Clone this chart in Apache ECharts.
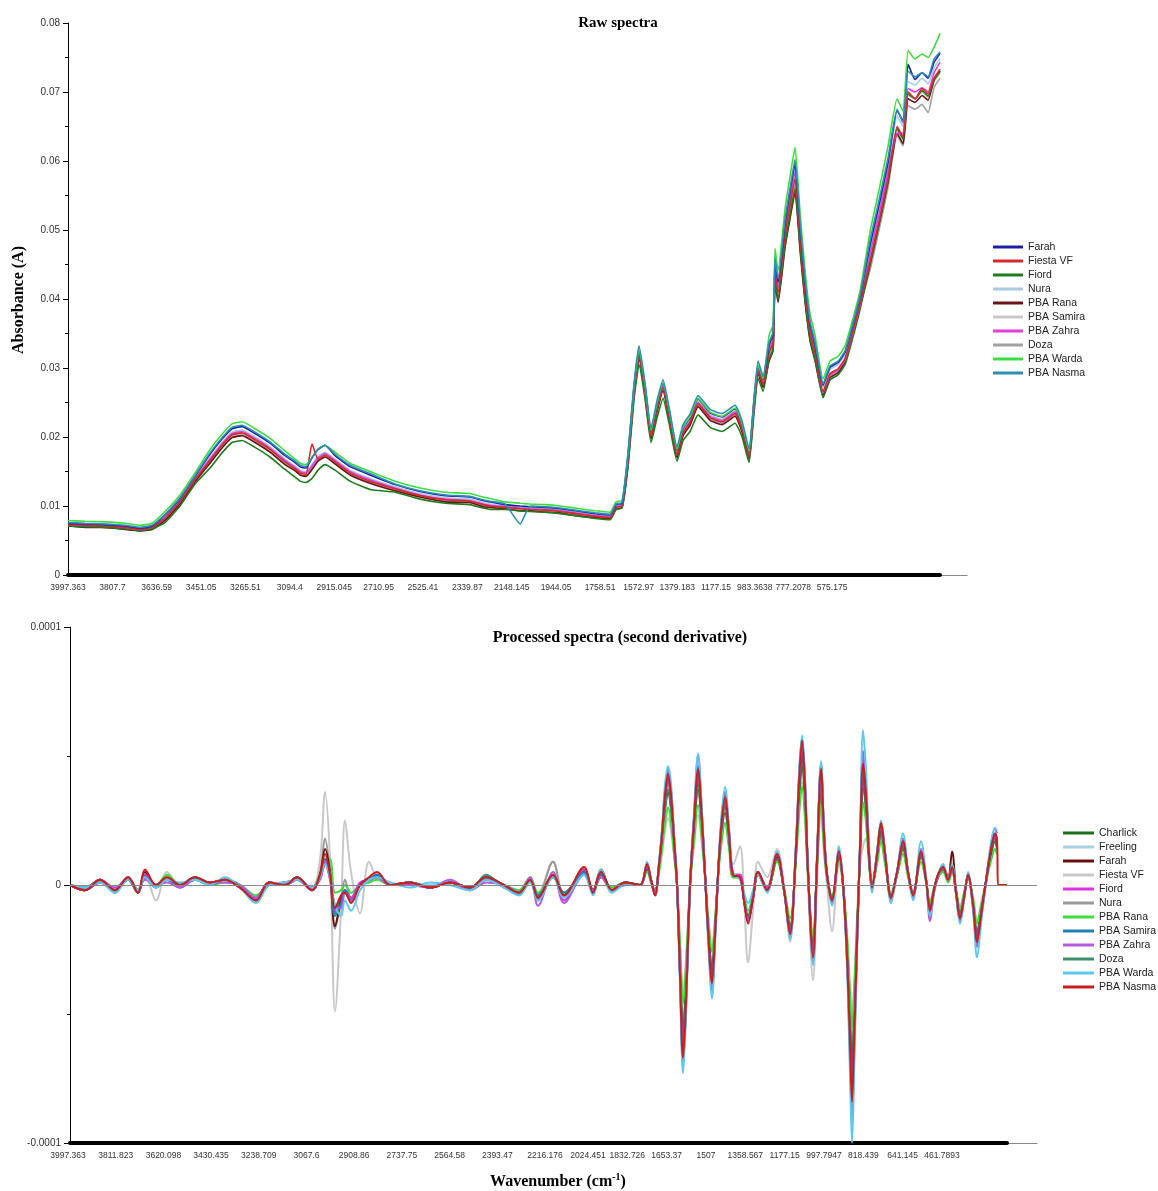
<!DOCTYPE html>
<html><head><meta charset="utf-8">
<script src="https://cdn.jsdelivr.net/npm/echarts@6/dist/echarts.min.js"></script>
<style>html,body{margin:0;padding:0;background:#fff}#c{width:1158px;height:1191px}</style>
</head><body><div id="c"></div>
<script>
// ---------- Raw spectra (values in 1e-4 absorbance units) ----------
const rawWavenumbers = [3997.4,3926.0,3842.0,3758.0,3695.0,3644.6,3590.0,3527.0,3464.0,3401.0,
3350.6,3308.6,3266.6,3212.0,3149.0,3086.0,3044.0,3023.0,2998.0,2972.6,
2947.4,2918.0,2876.0,2813.0,2729.0,2624.0,2519.0,2414.0,2309.0,2254.4,
2225.0,2162.0,2099.0,2057.0,1994.0,1931.0,1868.0,1784.0,1721.0,1695.8,
1670.6,1645.4,1620.2,1599.2,1574.0,1548.8,1523.6,1498.4,1473.2,1439.6,
1414.4,1385.0,1351.4,1301.0,1250.6,1196.0,1166.6,1137.2,1116.2,1099.4,
1078.4,1053.2,1036.4,1028.0,1015.4,986.0,965.0,944.0,923.0,902.0,
881.0,860.0,826.4,797.0,763.4,734.0,704.6,671.0,629.0,587.0,
553.4,515.6,490.4,469.4,440.0,410.6,385.4,360.2,335.0];

const rawFarah = [75,74,73,71,68,71,87,111,143,175,197,212,215,205,191,173,163,157,155,170,182,188,173,157,145,131,121,115,113,108,106,102,100,99,98,96,93,89,87,102,104,173,273,325,273,208,248,278,238,181,213,228,255,235,229,241,218,178,253,303,283,333,349,455,424,510,556,596,505,424,364,333,275,301,308,323,358,403,478,543,598,673,658,740,718,728,720,743,756];
const rawFiestaVF = [73,72,71,69,66,69,82,106,138,166,188,203,206,196,182,164,154,148,146,190,168,174,164,148,136,125,115,109,107,102,100,98,96,95,94,92,89,85,83,98,100,166,266,318,266,201,241,271,231,174,206,221,248,228,222,234,211,171,246,296,276,322,336,439,409,492,536,575,487,409,351,322,266,292,299,314,349,394,455,520,575,650,635,700,690,705,697,720,733];
const rawFiord = [71,70,69,67,64,67,76,100,132,155,177,192,195,185,171,153,142,136,134,140,152,160,152,136,124,120,110,104,102,97,95,95,93,92,91,89,86,82,80,95,97,157,255,305,255,192,228,256,220,165,195,208,232,214,208,220,200,163,236,285,266,313,327,427,399,479,522,560,475,399,342,313,257,283,290,305,340,385,452,517,572,647,632,697,690,702,694,717,730];
const rawNura = [74,73,72,70,67,70,84,108,140,170,192,207,210,200,186,168,158,152,150,160,172,178,168,152,140,128,118,112,110,105,103,100,98,97,96,94,91,87,85,100,102,170,270,322,270,205,245,275,235,178,210,225,252,232,226,238,215,175,250,300,280,330,345,450,420,505,550,590,500,420,360,330,272,298,305,320,355,400,470,535,590,665,650,715,710,720,712,735,748];
const rawPBARana = [71,69,69,66,64,66,79,103,135,162,184,199,202,192,178,160,151,145,143,153,165,171,161,145,133,122,113,106,105,99,98,96,93,93,91,90,86,83,81,95,98,162,262,314,262,197,237,267,227,170,202,217,244,224,218,230,207,167,242,292,272,310,325,423,395,475,517,555,470,395,339,310,260,286,293,308,343,388,450,515,570,640,625,690,685,695,688,718,730];
const rawPBASamira = [72,71,70,68,65,68,81,105,137,165,187,202,205,195,181,163,153,147,145,155,167,173,163,147,135,124,114,108,106,101,99,97,95,94,93,91,88,84,82,97,99,165,265,317,265,200,240,270,230,173,205,220,247,227,221,233,210,170,245,295,275,319,333,435,406,488,531,570,483,406,348,319,264,290,297,312,347,392,450,515,570,645,630,695,690,700,692,715,728];
const rawPBAZahra = [74,72,72,69,66,70,83,107,139,168,190,205,208,198,184,166,156,150,148,158,170,176,166,150,138,126,116,110,108,103,101,99,97,96,95,93,90,86,84,99,101,168,268,320,268,203,243,273,233,176,208,223,250,230,224,236,213,173,248,298,278,327,341,445,416,500,544,584,495,416,356,327,264,290,297,312,347,392,465,530,585,640,640,705,700,706,700,728,743];
const rawDoza = [71,70,69,67,64,67,80,104,136,163,185,200,203,193,179,161,152,146,144,154,166,172,162,146,134,123,113,107,105,100,98,96,94,93,92,90,87,83,81,96,98,164,264,316,264,199,239,269,229,172,204,219,246,226,220,232,209,169,244,294,274,316,330,431,402,484,527,565,479,402,345,316,262,288,295,310,345,390,442,507,562,637,622,680,675,682,670,707,720];
const rawPBAWarda = [79,78,77,75,72,75,92,116,148,182,204,219,222,212,198,180,168,162,160,170,182,188,178,162,150,136,126,120,118,113,111,106,104,103,102,100,97,93,91,106,108,174,274,326,274,209,249,279,239,182,214,229,256,236,230,242,219,179,254,304,284,347,363,473,441,531,578,620,525,441,378,347,284,310,317,332,367,412,498,565,622,690,672,760,748,755,750,765,785];
const rawPBANasma = [76,75,74,72,69,72,88,112,144,177,199,214,217,207,193,175,165,159,157,170,182,188,175,159,147,132,122,116,114,109,107,103,74,100,99,97,94,90,88,103,105,178,278,332,278,213,253,283,243,186,218,233,260,240,234,246,223,183,258,310,288,337,352,459,429,515,561,602,510,429,367,337,277,303,310,325,360,405,485,550,605,675,655,730,722,728,722,748,758];

const rawNames = ['Farah','Fiesta VF','Fiord','Nura','PBA Rana','PBA Samira','PBA Zahra','Doza','PBA Warda','PBA Nasma'];
const rawValues = [rawFarah,rawFiestaVF,rawFiord,rawNura,rawPBARana,rawPBASamira,rawPBAZahra,rawDoza,rawPBAWarda,rawPBANasma];
const rawColors = ['#1f1fa8','#d42a2a','#1e7b1e','#a9cbe3','#6e1414','#c9c9c9','#e03ee0','#a0a0a0','#3fdc3f','#2b8fb3'];
const rawDrawOrder = [5,7,3,4,2,6,1,0,8,9];
const rawTickLabels = ['3997.363','3807.7','3636.59','3451.05','3265.51','3094.4','2915.045','2710.95','2525.41','2339.87','2148.145','1944.05','1758.51','1572.97','1379.183','1177.15','983.3638','777.2078','575.175'];

// ---------- Second derivative (values in 1e-6 units) ----------
const derivWavenumbers = [3997.4,3939.5,3881.6,3823.7,3773.5,3735.0,3707.9,3665.4,3623.0,3572.8,
3515.0,3457.0,3399.1,3341.2,3279.4,3229.3,3167.5,3121.2,3063.3,3032.4,
3013.1,2993.8,2974.5,2951.3,2935.9,2912.7,2878.0,2843.3,2812.4,2762.2,
2685.0,2607.8,2530.6,2453.4,2391.6,2322.2,2264.3,2221.8,2190.9,2133.0,
2090.6,2013.4,1978.6,1947.7,1905.3,1855.1,1797.2,
1770.2,1754.9,1739.3,1723.9,1712.3,1700.7,1689.1,1677.5,1665.9,1654.4,
1642.8,1631.2,1619.6,1604.2,1588.8,1573.3,1557.9,1546.3,1534.7,1519.3,
1507.7,1496.1,1484.5,1469.1,1453.6,1438.2,1411.2,1395.8,1380.3,1361.0,
1341.7,1307.0,1268.4,1241.4,1218.2,1195.0,1183.5,1171.9,1160.3,1148.7,
1129.4,1114.0,1098.5,1087.0,1075.4,1056.1,1029.1,1013.6,998.2,986.6,
978.9,971.2,959.6,948.0,936.4,924.9,913.3,901.7,882.4,867.0,
851.5,828.3,805.2,782.0,762.7,743.4,712.5,693.2,677.8,662.4,
646.9,627.6,608.3,592.9,577.4,562.0,546.6,531.1,511.8,496.4,
480.9,465.5,446.2,426.9,419.1,415.3,380.5];

const dCharlick = [0,-2,1,-2,2,-3,4,0,2,0,3,1,2,-1,-5,0,1,2,-2,4,9,4,-11,-5,-2,-6,0,2,3,0,1,-1,1,-1,3,0,-3,2,-4,4,-4,5,-2,5,-2,0,0,
 6,2,-3,7,17,29,36,29,15,0, -29,-56,-37,0,21,37,21,3,-15,-32, -16,3,18,28,17,3,3,-5,-12,-4, 4,-2,10,-2,-16,12,33,46,31,4, -23,8,37,17,3,-5,11,0,-23,-51, -68,-51,-18,12,39,29,10,-1,10,20, 10,-4,4,14,4,-3,11,2,-8,-2, 3,6,2,6,-2,-11,-4,3,-7,-18, -10,-1,10,17,14,null,null];
const dFreeling = [0,-1,2,-2,2,-2,3,0,2,0,2,0,2,0,-5,1,0,2,-1,3,10,3,-10,-6,-2,-5,0,1,3,0,1,0,1,-1,2,0,-2,2,-4,3,-3,4,-2,3,-1,1,0,
 7,2,-4,7,18,32,40,32,17,0, -32,-62,-41,0,23,42,23,4,-17,-35, -18,4,20,31,18,4,3,-6,-13,-5, 5,-2,11,-2,-17,14,37,51,35,5, -26,9,41,18,4,-6,12,0,-26,-57, -77,-57,-20,14,43,32,11,-1,11,22, 11,-5,5,16,5,-4,12,2,-9,-2, 4,6,2,6,-3,-12,-5,4,-7,-20, -11,-1,11,18,16,null,null];
const dFarah = [0,-2,2,-2,3,-3,5,0,2,0,2,1,2,-1,-5,1,0,3,-2,4,14,5,-16,-6,-3,-6,0,2,4,0,1,-1,1,-1,2,0,-3,2,-5,4,-4,6,-2,6,-2,1,0,
 7,2,-4,8,19,34,41,34,17,0, -34,-64,-43,0,24,43,24,4,-17,-36, -19,4,21,33,19,4,3,-6,-14,-5, 5,-2,11,-2,-18,14,38,53,36,5, -27,11,47,20,4,-6,12,0,-27,-60, -80,-60,-21,14,45,33,11,-1,12,23, 12,-5,5,16,5,-4,12,2,-10,-2, 4,7,3,13,-3,-14,-5,4,-8,-21, -11,-1,11,19,16,null,null];
const dFiestaVF = [0,-1,2,-1,2,-2,4,-6,5,0,2,1,2,0,-5,1,0,2,-1,10,36,10,-49,-10,25,5,-11,9,3,1,0,-1,1,-1,2,0,-2,2,-3,9,-3,4,-2,3,-1,1,0,
 6,1,-3,5,12,21,26,21,11,0, -21,-42,-28,0,15,27,15,4,-11,-24, -12,4,15,24,15,8,15,-5,-30,-10, 9,3,14,0,-22,12,30,40,25,0, -37,0,30,12,0,-18,8,0,-22,-40, -50,-40,-12,8,15,18,12,2,10,18, 10,-3,4,12,4,-2,9,1,-6,-1, 3,5,2,5,-2,-8,-3,3,-5,-14, -7,0,8,14,12,null,null];
const dFiord = [0,-2,1,-1,2,-2,4,0,2,-1,2,1,2,-1,-5,0,1,2,-1,2,8,2,-10,-8,-2,-5,1,2,3,0,0,-1,1,-2,2,0,-3,2,-6,4,-6,6,-3,4,-2,0,0,
 7,2,-3,8,19,34,42,34,18,1, -34,-65,-44,1,24,44,25,5,-17,-37, -19,4,21,33,20,4,4,-6,-14,-5, 5,-1,12,-2,-18,15,39,54,37,5, -27,10,44,19,4,-6,13,0,-27,-61, -82,-61,-21,15,46,34,12,-1,12,23, 12,-5,5,16,5,-4,12,2,-10,-2, 4,7,2,6,-3,-13,-5,4,-8,-21, -11,-1,12,19,17,null,null];
const dNura = [0,-2,1,-2,2,-2,4,-1,3,0,3,1,2,-1,-6,1,0,3,-2,5,18,5,-17,-6,2,-5,0,2,4,0,1,-1,1,-1,3,0,-3,2,-4,9,-4,5,-3,4,-2,1,0,
 7,2,-3,7,18,31,39,31,16,0, -32,-60,-40,0,22,40,22,4,-16,-34, -18,4,20,31,18,4,4,-6,-13,-4, 5,-2,11,-2,-17,13,36,50,34,5, -25,9,40,18,4,-5,12,0,-25,-56, -76,-56,-20,13,42,31,11,-1,11,21, 11,-4,5,15,5,-4,12,2,-9,-2, 4,6,2,6,-3,-12,-5,4,-7,-20, -11,-1,11,18,15,null,null];
const dPBARana = [0,-1,1,-2,2,-2,3,0,4,0,2,0,1,0,-4,0,0,2,-1,4,8,10,-3,-2,0,-3,0,1,2,0,1,-1,1,-1,2,0,-2,3,-3,3,-3,4,-2,3,-1,1,0,
 5,1,-3,5,14,24,30,24,12,0, -24,-46,-31,0,17,31,17,3,-12,-26, -14,3,15,24,14,3,3,-4,-10,-3, 4,-1,9,-1,-13,10,27,38,26,3, -19,7,31,14,3,-4,9,0,-19,-42, -56,-42,-15,10,32,24,8,0,8,17, 8,-3,4,12,3,-3,9,1,-7,-1, 3,5,1,5,-2,-9,-3,3,-5,-15, -8,-1,8,14,12,null,null];
const dPBASamira = [0,-1,2,-2,2,-3,3,-1,2,0,3,0,2,-1,-6,1,0,3,-2,3,10,4,-12,-7,-2,-6,0,2,4,0,1,-1,1,-1,3,0,-4,2,-4,3,-3,5,-3,4,-2,1,0,
 8,2,-4,8,20,36,44,36,18,0, -36,-68,-46,0,26,46,26,4,-18,-39, -20,4,22,35,20,4,3,-6,-13,-5, 5,-2,12,-2,-19,15,41,57,39,5, -29,10,46,20,4,-6,13,0,-29,-65, -88,-65,-23,15,49,36,12,-1,12,24, 12,-5,5,17,5,-4,13,2,-11,-2, 4,7,2,7,-3,-13,-5,4,-8,-23, -12,-1,12,20,18,null,null];
const dPBAZahra = [0,-2,2,-1,3,-2,2,0,1,-1,2,1,1,0,-5,1,0,2,-2,3,9,4,-8,-9,-3,-6,0,2,3,0,1,-1,2,-2,1,0,-3,3,-8,5,-7,4,-2,3,-2,1,0,
 8,2,-4,8,21,37,45,37,19,0, -37,-70,-47,0,27,50,27,4,-19,-41, -21,4,23,36,21,4,3,-6,-14,-5, 5,-2,12,-2,-20,16,42,57,40,5, -30,10,46,21,4,-7,14,0,-30,-68, -92,-68,-24,16,52,38,13,-2,13,24, 13,-6,5,18,5,-5,14,2,-14,-3, 3,8,2,7,-3,-14,-5,4,-9,-24, -13,-2,13,22,20,null,null];
const dDoza = [0,-2,2,-3,3,-2,4,0,2,-1,2,0,2,0,-6,1,0,2,-1,4,10,5,-11,-5,-2,-5,0,2,3,0,1,-1,1,-2,4,-1,-3,2,-5,4,-4,5,-3,5,-2,1,0,
 7,2,-3,7,17,30,37,30,16,0, -30,-58,-39,0,22,39,22,4,-16,-33, -17,4,19,30,17,4,3,-5,-13,-4, 4,-2,10,-2,-16,13,35,49,33,4, -24,9,39,17,4,-5,11,0,-24,-53, -72,-53,-19,13,41,30,10,-1,10,21, 10,-4,4,15,4,-4,11,2,-9,-2, 4,6,2,6,-3,-11,-4,4,-7,-19, -10,-1,10,17,15,null,null];
const dPBAWarda = [0,-1,1,-3,2,-2,3,-1,2,1,2,0,3,-1,-7,0,1,2,-1,3,8,3,-8,-12,-6,-10,-2,2,3,1,-1,1,0,-2,2,-1,-4,1,-6,3,-5,4,-4,6,-3,0,0,
 9,2,-4,9,22,39,46,39,20,0, -39,-73,-50,0,28,51,28,4,-21,-44, -23,4,25,38,22,5,2,-3,-7,-2, 4,-3,13,-2,-21,17,43,58,41,5, -31,11,48,22,4,-8,15,-1,-32,-74, -100,-74,-26,18,60,44,15,-3,13,25, 13,-7,5,20,5,-6,17,3,-12,-3, 4,8,2,8,-4,-15,-6,5,-10,-28, -15,-2,14,22,21,null,null];
const dPBANasma = [0,-2,2,-2,3,-3,6,0,3,0,3,1,2,-1,-6,1,0,3,-2,4,12,4,-9,-4,-3,-7,0,3,5,0,1,-1,1,-1,3,0,-3,2,-5,4,-4,7,-3,5,-2,1,0,
 8,2,-4,8,20,35,43,35,18,0, -35,-67,-45,0,25,45,25,4,-18,-38, -20,4,22,34,20,4,3,-6,-15,-5, 5,-2,12,-2,-19,15,40,56,38,5, -28,10,45,20,4,-6,13,0,-28,-62, -84,-62,-22,15,47,35,12,-1,12,24, 12,-5,5,17,5,-4,13,2,-10,-2, 4,7,2,7,-3,-13,-5,4,-8,-22, -12,-1,12,20,17,0,0];

const derivNames = ['Charlick','Freeling','Farah','Fiesta VF','Fiord','Nura','PBA Rana','PBA Samira','PBA Zahra','Doza','PBA Warda','PBA Nasma'];
const derivValues = [dCharlick,dFreeling,dFarah,dFiestaVF,dFiord,dNura,dPBARana,dPBASamira,dPBAZahra,dDoza,dPBAWarda,dPBANasma];
const derivColors = ['#1e6e1e','#a8cfe6','#6b1010','#c8c8c8','#dd33dd','#999999','#3ddc3d','#2380b5','#b25ae0','#3f8f6f','#5cc8ea','#c81e1e'];
const derivDrawOrder = [3,1,5,0,9,6,2,4,7,8,10,11];
const derivTickLabels = ['3997.363','3811.823','3620.098','3430.435','3238.709','3067.6','2908.86','2737.75','2564.58','2393.47','2216.176','2024.451','1832.726','1653.37','1507','1358.567','1177.15','997.7947','818.439','641.145','461.7893'];

// ---------- build ----------
const SANS = '"Liberation Sans", Arial, sans-serif';
const SERIF = '"Liberation Serif", "Times New Roman", serif';

function toPairs(xs, ys, scale) {
  const out = [];
  ys.forEach((v, i) => { if (v !== null) out.push([xs[i], v * scale]); });
  return out;
}

const series = [];
rawDrawOrder.forEach(i => {
  series.push({
    name: rawNames[i], type: 'line', xAxisIndex: 0, yAxisIndex: 0,
    data: toPairs(rawWavenumbers, rawValues[i], 1e-4),
    showSymbol: false, symbol: 'none', smooth: 0.15,
    lineStyle: { width: 1.6, color: rawColors[i] }, itemStyle: { color: rawColors[i] },
    animation: false, silent: true
  });
});
derivDrawOrder.forEach((i, k) => {
  const s = {
    name: derivNames[i], type: 'line', xAxisIndex: 5, yAxisIndex: 5,
    data: toPairs(derivWavenumbers, derivValues[i], 1e-6),
    showSymbol: false, symbol: 'none', smooth: 0.35,
    lineStyle: { width: 2, color: derivColors[i] }, itemStyle: { color: derivColors[i] },
    animation: false, silent: true
  };
  if (k === 0) {
    s.markLine = { silent: true, symbol: 'none', label: { show: false },
      lineStyle: { color: '#8a8a8a', width: 1, type: 'solid' }, data: [{ yAxis: 0 }] };
  }
  series.push(s);
});

const hiddenY = (gi) => ({ gridIndex: gi, show: false, type: 'value' });
const barX = (gi) => ({ gridIndex: gi, type: 'value', axisLine: { show: true, onZero: false, lineStyle: { color: '#000', width: 4 } },
  axisTick: { show: false }, axisLabel: { show: false }, splitLine: { show: false } });
const labelX = (gi, labels, margin) => ({ gridIndex: gi, type: 'category', data: labels, boundaryGap: false,
  axisLine: { show: false, onZero: false }, axisTick: { show: false }, splitLine: { show: false },
  axisLabel: { interval: 0, fontSize: 8.5, color: '#333', fontFamily: SANS, margin: margin } });

const TOP = { top: 23, height: 552 };
const BOT = { top: 627, height: 516 };

const option = {
  backgroundColor: '#fff',
  animation: false,
  grid: [
    Object.assign({ left: 68, width: 899 }, TOP),   // 0 raw data
    Object.assign({ left: 68, width: 872 }, TOP),   // 1 raw black axis bar
    Object.assign({ left: 68, width: 488 }, TOP),   // 2 raw labels (first part)
    Object.assign({ left: 600, width: 232 }, TOP),  // 3 raw labels (second part)
    Object.assign({ left: 70, width: 967 }, BOT),   // 4 (unused spacer)
    Object.assign({ left: 70, width: 967 }, BOT),   // 5 derivative data
    Object.assign({ left: 70, width: 937 }, BOT),   // 6 derivative black axis bar
    Object.assign({ left: 68, width: 477 }, BOT),   // 7 derivative labels (first part)
    Object.assign({ left: 588, width: 354 }, BOT)   // 8 derivative labels (second part)
  ],
  xAxis: [
    { gridIndex: 0, type: 'value', inverse: true, min: 222, max: 3997.4,
      axisLine: { show: true, onZero: false, lineStyle: { color: '#8a8a8a', width: 1 } },
      axisTick: { show: false }, axisLabel: { show: false }, splitLine: { show: false } },
    barX(1),
    labelX(2, rawTickLabels.slice(0, 12), 8),
    labelX(3, rawTickLabels.slice(12), 8),
    { gridIndex: 4, type: 'value', show: false },
    { gridIndex: 5, type: 'value', inverse: true, min: 265, max: 3997.4,
      axisLine: { show: true, onZero: false, lineStyle: { color: '#8a8a8a', width: 1 } },
      axisTick: { show: false }, axisLabel: { show: false }, splitLine: { show: false } },
    barX(6),
    labelX(7, derivTickLabels.slice(0, 11), 8),
    labelX(8, derivTickLabels.slice(11), 8)
  ],
  yAxis: [
    { gridIndex: 0, type: 'value', min: 0, max: 0.08, interval: 0.01,
      axisLine: { show: true, lineStyle: { color: '#000', width: 1 } },
      axisTick: { show: true, length: 5, lineStyle: { color: '#000' } },
      minorTick: { show: true, splitNumber: 2, length: 3, lineStyle: { color: '#000' } },
      axisLabel: { fontSize: 10, color: '#333', fontFamily: SANS, margin: 8 },
      splitLine: { show: false } },
    hiddenY(1), hiddenY(2), hiddenY(3), hiddenY(4),
    { gridIndex: 5, type: 'value', min: -0.0001, max: 0.0001, interval: 0.0001,
      axisLine: { show: true, onZero: false, lineStyle: { color: '#000', width: 1 } },
      axisTick: { show: true, length: 6, lineStyle: { color: '#000' } },
      minorTick: { show: true, splitNumber: 2, length: 3, lineStyle: { color: '#000' } },
      axisLabel: { fontSize: 10, color: '#333', fontFamily: SANS, margin: 9 },
      splitLine: { show: false } },
    hiddenY(6), hiddenY(7), hiddenY(8)
  ],
  legend: [
    { orient: 'vertical', left: 993, top: 241, padding: 0, itemWidth: 30, itemHeight: 3, itemGap: 2, icon: 'rect',
      textStyle: { fontSize: 10.5, color: '#222', fontFamily: SANS, lineHeight: 12 },
      data: rawNames.map((n, i) => ({ name: n, itemStyle: { color: rawColors[i] } })), selectedMode: false },
    { orient: 'vertical', left: 1063, top: 827, padding: 0, itemWidth: 31, itemHeight: 3, itemGap: 2, icon: 'rect',
      textStyle: { fontSize: 10.5, color: '#222', fontFamily: SANS, lineHeight: 12 },
      data: derivNames.map((n, i) => ({ name: n, itemStyle: { color: derivColors[i] } })), selectedMode: false }
  ],
  graphic: [
    { type: 'text', x: 618, y: 23, style: { text: 'Raw spectra', font: 'bold 15px ' + SERIF, fill: '#000',
      textAlign: 'center', textVerticalAlign: 'middle', align: 'center', verticalAlign: 'middle' } },
    { type: 'text', x: 620, y: 638, style: { text: 'Processed spectra (second derivative)', font: 'bold 16px ' + SERIF, fill: '#000',
      textAlign: 'center', textVerticalAlign: 'middle', align: 'center', verticalAlign: 'middle' } },
    { type: 'text', x: 19, y: 300, rotation: Math.PI / 2, style: { text: 'Absorbance (A)', font: 'bold 16px ' + SERIF, fill: '#000',
      textAlign: 'center', textVerticalAlign: 'middle', align: 'center', verticalAlign: 'middle' } },
    { type: 'text', x: 558, y: 1182, style: { text: '{a|Wavenumber (cm}{b|-1}{a|)}', fill: '#000',
      textAlign: 'center', textVerticalAlign: 'middle', align: 'center', verticalAlign: 'middle',
      rich: { a: { font: 'bold 16px ' + SERIF, lineHeight: 20, fill: '#000' },
              b: { font: 'bold 10px ' + SERIF, lineHeight: 20, verticalAlign: 'top', fill: '#000' } } } }
  ],
  series: series
};

const chart = echarts.init(document.getElementById('c'), null, { renderer: 'canvas' });
chart.setOption(option);
</script>
</body></html>
